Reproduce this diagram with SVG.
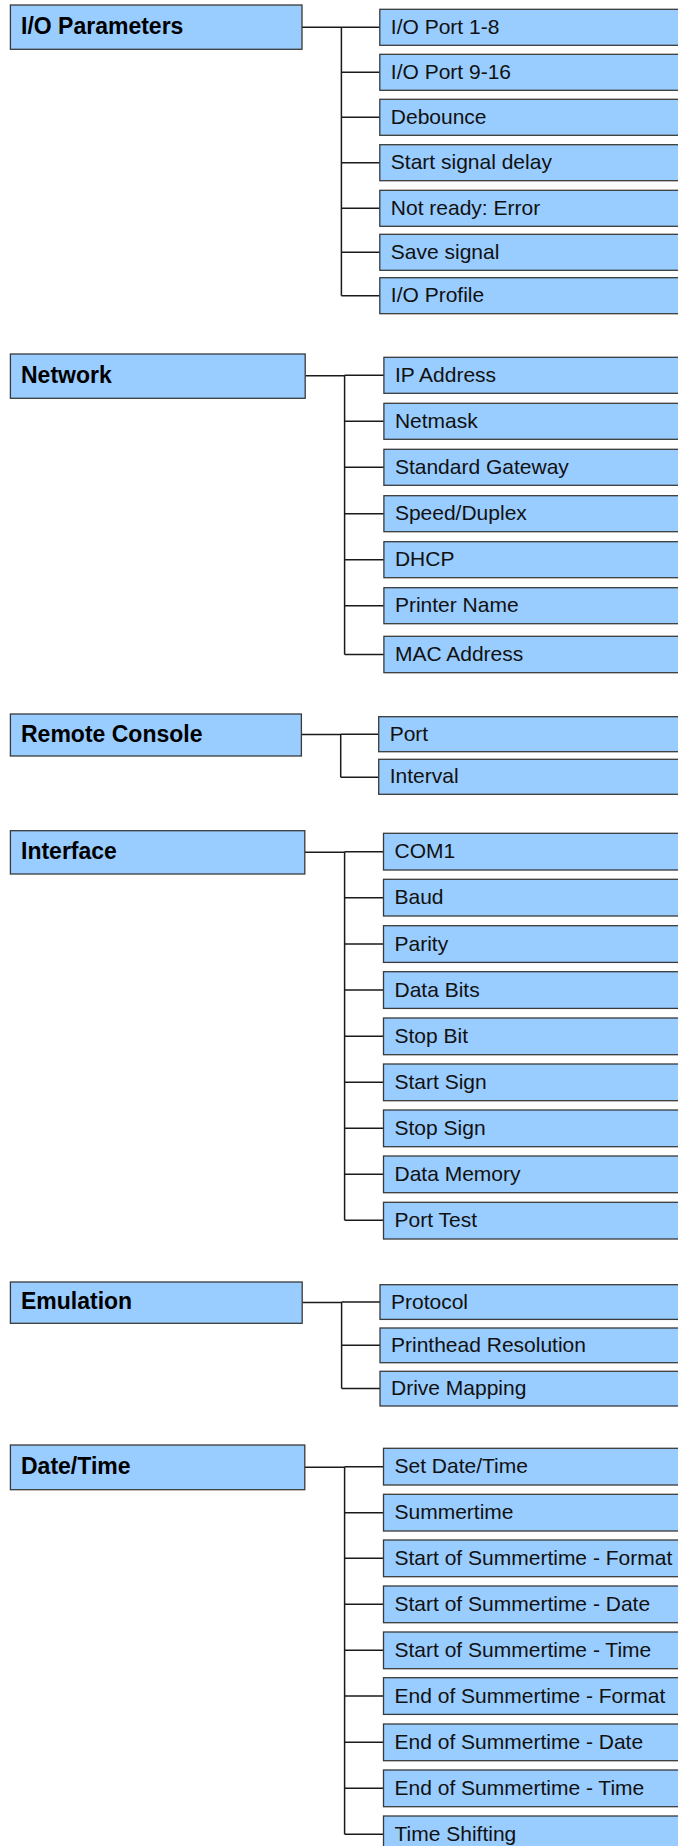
<svg xmlns="http://www.w3.org/2000/svg" width="678" height="1846" viewBox="0 0 678 1846">
<style>
.p{fill:#99ccff;stroke:#3a3a3a;stroke-width:1.3}
.c{fill:#99ccff;stroke:#3a3a3a;stroke-width:1.3}
.pt{font-family:"Liberation Sans",Arial,sans-serif;font-weight:bold;font-size:23px;fill:#000}
.ct{font-family:"Liberation Sans",Arial,sans-serif;font-size:21px;fill:#111}
.ln{fill:none;stroke:#1a1a1a;stroke-width:1.5}
</style>
<rect width="678" height="1846" fill="#fff"/>
<g id="connectors" class="ln">
<path d="M302 27.3H341.4M341.4 27.3V295.7M341.4 27.3H379.8M341.4 72.3H379.8M341.4 117.3H379.8M341.4 162.7H379.8M341.4 208.3H379.8M341.4 252.3H379.8M341.4 295.7H379.8"/>
<path d="M305.2 375.7H344.6M344.6 375.7V654.5M344.6 375.3H383.9M344.6 421.3H383.9M344.6 467.3H383.9M344.6 513.7H383.9M344.6 559.7H383.9M344.6 605.7H383.9M344.6 654.5H383.9"/>
<path d="M301.4 734.5H340.7M340.7 734.3V777.3M340.7 734.2H378.7M340.7 777.3H378.7"/>
<path d="M304.8 852.3H344.6M344.6 852.3V1220.3M344.6 851.7H383.5M344.6 897.7H383.5M344.6 944H383.5M344.6 990H383.5M344.6 1036.3H383.5M344.6 1082.3H383.5M344.6 1128.3H383.5M344.6 1174.3H383.5M344.6 1220.3H383.5"/>
<path d="M302.2 1302.5H341.6M341.6 1302.5V1388.5M341.6 1302H380M341.6 1345.3H380M341.6 1388.5H380"/>
<path d="M304.8 1467.3H344.6M344.6 1467.3V1834.3M344.6 1466.7H383.5M344.6 1512.7H383.5M344.6 1558.3H383.5M344.6 1604.3H383.5M344.6 1650.3H383.5M344.6 1696H383.5M344.6 1742.3H383.5M344.6 1788.3H383.5M344.6 1834.3H383.5"/>
</g>
<g id="io-parameters"><rect class="p" x="10.4" y="5" width="291.6" height="44.3"/><text class="pt" x="21" y="33.7">I/O Parameters</text></g>
<g id="io-port-1-8"><rect class="c" x="379.8" y="9.3" width="310" height="36"/><text class="ct" x="390.8" y="34">I/O Port 1-8</text></g>
<g id="io-port-9-16"><rect class="c" x="379.8" y="54.3" width="310" height="36"/><text class="ct" x="390.8" y="79">I/O Port 9-16</text></g>
<g id="debounce"><rect class="c" x="379.8" y="99.3" width="310" height="36"/><text class="ct" x="390.8" y="124">Debounce</text></g>
<g id="start-signal-delay"><rect class="c" x="379.8" y="144.7" width="310" height="36"/><text class="ct" x="390.8" y="169.4">Start signal delay</text></g>
<g id="not-ready-error"><rect class="c" x="379.8" y="190.3" width="310" height="36"/><text class="ct" x="390.8" y="215">Not ready: Error</text></g>
<g id="save-signal"><rect class="c" x="379.8" y="234.3" width="310" height="36"/><text class="ct" x="390.8" y="259">Save signal</text></g>
<g id="io-profile"><rect class="c" x="379.8" y="277.7" width="310" height="36"/><text class="ct" x="390.8" y="302.4">I/O Profile</text></g>

<g id="network"><rect class="p" x="10.4" y="354" width="294.8" height="44.3"/><text class="pt" x="21" y="382.7">Network</text></g>
<g id="ip-address"><rect class="c" x="383.9" y="357.3" width="310" height="36"/><text class="ct" x="394.9" y="382">IP Address</text></g>
<g id="netmask"><rect class="c" x="383.9" y="403.3" width="310" height="36"/><text class="ct" x="394.9" y="428">Netmask</text></g>
<g id="standard-gateway"><rect class="c" x="383.9" y="449.3" width="310" height="36"/><text class="ct" x="394.9" y="474">Standard Gateway</text></g>
<g id="speed-duplex"><rect class="c" x="383.9" y="495.7" width="310" height="36"/><text class="ct" x="394.9" y="520.4">Speed/Duplex</text></g>
<g id="dhcp"><rect class="c" x="383.9" y="541.7" width="310" height="36"/><text class="ct" x="394.9" y="566.4">DHCP</text></g>
<g id="printer-name"><rect class="c" x="383.9" y="587.7" width="310" height="36"/><text class="ct" x="394.9" y="612.4">Printer Name</text></g>
<g id="mac-address"><rect class="c" x="383.9" y="636.3" width="310" height="36.4"/><text class="ct" x="394.9" y="661">MAC Address</text></g>

<g id="remote-console"><rect class="p" x="10.4" y="714" width="291" height="42"/><text class="pt" x="21" y="741.5">Remote Console</text></g>
<g id="port"><rect class="c" x="378.7" y="716.7" width="310" height="35"/><text class="ct" x="389.7" y="740.8">Port</text></g>
<g id="interval"><rect class="c" x="378.7" y="759.3" width="310" height="35"/><text class="ct" x="389.7" y="783.4">Interval</text></g>

<g id="interface"><rect class="p" x="10.4" y="830.7" width="294.4" height="43.3"/><text class="pt" x="21" y="858.8">Interface</text></g>
<g id="com1"><rect class="c" x="383.5" y="833.3" width="310" height="36.7"/><text class="ct" x="394.5" y="858.3">COM1</text></g>
<g id="baud"><rect class="c" x="383.5" y="879.3" width="310" height="36.7"/><text class="ct" x="394.5" y="904.3">Baud</text></g>
<g id="parity"><rect class="c" x="383.5" y="925.7" width="310" height="36.7"/><text class="ct" x="394.5" y="950.6">Parity</text></g>
<g id="data-bits"><rect class="c" x="383.5" y="971.7" width="310" height="36.7"/><text class="ct" x="394.5" y="996.6">Data Bits</text></g>
<g id="stop-bit"><rect class="c" x="383.5" y="1018" width="310" height="36.7"/><text class="ct" x="394.5" y="1042.9">Stop Bit</text></g>
<g id="start-sign"><rect class="c" x="383.5" y="1064" width="310" height="36.7"/><text class="ct" x="394.5" y="1088.9">Start Sign</text></g>
<g id="stop-sign"><rect class="c" x="383.5" y="1110" width="310" height="36.7"/><text class="ct" x="394.5" y="1134.9">Stop Sign</text></g>
<g id="data-memory"><rect class="c" x="383.5" y="1156" width="310" height="36.7"/><text class="ct" x="394.5" y="1180.9">Data Memory</text></g>
<g id="port-test"><rect class="c" x="383.5" y="1202.3" width="310" height="36.7"/><text class="ct" x="394.5" y="1227.2">Port Test</text></g>

<g id="emulation"><rect class="p" x="10.4" y="1282" width="291.8" height="41.3"/><text class="pt" x="21" y="1309.2">Emulation</text></g>
<g id="protocol"><rect class="c" x="380" y="1284.7" width="310" height="34.7"/><text class="ct" x="391" y="1308.5">Protocol</text></g>
<g id="printhead-resolution"><rect class="c" x="380" y="1328" width="310" height="34.7"/><text class="ct" x="391" y="1351.8">Printhead Resolution</text></g>
<g id="drive-mapping"><rect class="c" x="380" y="1371.3" width="310" height="34.7"/><text class="ct" x="391" y="1395.1">Drive Mapping</text></g>

<g id="date-time"><rect class="p" x="10.4" y="1445" width="294.4" height="44.7"/><text class="pt" x="21" y="1473.8">Date/Time</text></g>
<g id="set-date-time"><rect class="c" x="383.5" y="1448.3" width="310" height="36.7"/><text class="ct" x="394.5" y="1473.3">Set Date/Time</text></g>
<g id="summertime"><rect class="c" x="383.5" y="1494.3" width="310" height="36.7"/><text class="ct" x="394.5" y="1519.3">Summertime</text></g>
<g id="start-format"><rect class="c" x="383.5" y="1540" width="310" height="36.7"/><text class="ct" x="394.5" y="1565">Start of Summertime - Format</text></g>
<g id="start-date"><rect class="c" x="383.5" y="1586" width="310" height="36.7"/><text class="ct" x="394.5" y="1611">Start of Summertime - Date</text></g>
<g id="start-time"><rect class="c" x="383.5" y="1632" width="310" height="36.7"/><text class="ct" x="394.5" y="1657">Start of Summertime - Time</text></g>
<g id="end-format"><rect class="c" x="383.5" y="1677.7" width="310" height="36.7"/><text class="ct" x="394.5" y="1702.7">End of Summertime - Format</text></g>
<g id="end-date"><rect class="c" x="383.5" y="1724" width="310" height="36.7"/><text class="ct" x="394.5" y="1749">End of Summertime - Date</text></g>
<g id="end-time"><rect class="c" x="383.5" y="1770" width="310" height="36.7"/><text class="ct" x="394.5" y="1795">End of Summertime - Time</text></g>
<g id="time-shifting"><rect class="c" x="383.5" y="1816" width="310" height="36.7"/><text class="ct" x="394.5" y="1841">Time Shifting</text></g>
</svg>
